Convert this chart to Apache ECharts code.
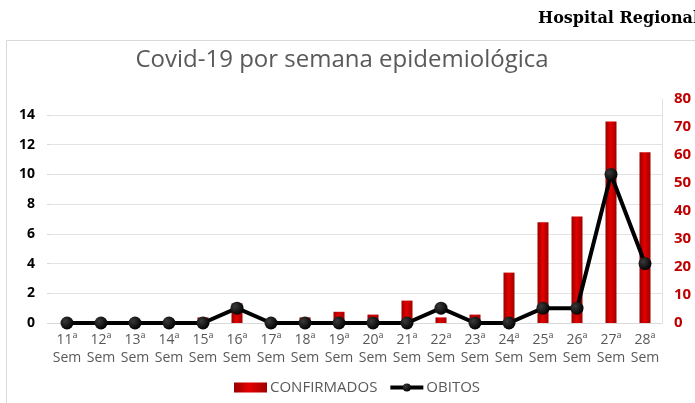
<!DOCTYPE html>
<html>
<head>
<meta charset="utf-8">
<script src="https://cdn.jsdelivr.net/npm/echarts@6/dist/echarts.min.js"></script>
<style>
  html, body { margin: 0; padding: 0; background: #fff; }
  #chart { width: 695px; height: 403px; }
</style>
</head>
<body>
<div id="chart"></div>
<script>
// semanas epidemiológicas
var semanas = ['11ª Sem', '12ª Sem', '13ª Sem', '14ª Sem', '15ª Sem', '16ª Sem', '17ª Sem', '18ª Sem', '19ª Sem',
               '20ª Sem', '21ª Sem', '22ª Sem', '23ª Sem', '24ª Sem', '25ª Sem', '26ª Sem', '27ª Sem', '28ª Sem'];
// casos confirmados (eixo direito)
var confirmados = [0, 0, 0, 0, 2, 7, 0, 2, 4, 3, 8, 2, 3, 18, 36, 38, 72, 61];
// óbitos (eixo esquerdo)
var obitos = [0, 0, 0, 0, 0, 1, 0, 0, 0, 0, 0, 1, 0, 0, 1, 1, 10, 4];

var chart = echarts.init(document.getElementById('chart'));

var barColor = new echarts.graphic.LinearGradient(0, 0, 1, 0, [
    { offset: 0, color: '#960000' },
    { offset: 0.45, color: '#e50000' },
    { offset: 1, color: '#a00000' }
]);
var dotColor = new echarts.graphic.RadialGradient(0.35, 0.35, 0.7, [
    { offset: 0, color: '#3a3a3a' },
    { offset: 1, color: '#000' }
]);

chart.setOption({
    animation: false,
    graphic: [
        {
            type: 'rect',
            shape: { x: 6.5, y: 40.5, width: 760, height: 420 },
            style: { fill: 'none', stroke: '#d9d9d9', lineWidth: 1 }
        },
        {
            type: 'text',
            right: -4,
            top: 11,
            style: { text: 'Hospital Regional', fill: '#000', font: 'bold 16px "DejaVu Serif"' }
        }
    ],
    title: {
        text: 'Covid-19 por semana epidemiológica',
        left: 337,
        textAlign: 'center',
        top: 43,
        textStyle: { color: '#595959', fontSize: 24, fontWeight: 'normal', fontFamily: 'Open Sans' }
    },
    legend: {
        bottom: 3,
        left: 229,
        itemWidth: 33,
        itemHeight: 10,
        itemGap: 11,
        textStyle: { color: '#595959', fontSize: 15, fontFamily: 'Open Sans', padding: [0, 0, 0, -2] },
        data: [
            { name: 'CONFIRMADOS', icon: 'rect' },
            { name: 'OBITOS', lineStyle: { width: 4, color: '#000' } }
        ]
    },
    grid: [
        { left: 50, right: 33, top: 115, bottom: 80 },
        { left: 50, right: 33, top: 99, bottom: 80 }
    ],
    xAxis: [
        {
            type: 'category',
            gridIndex: 0,
            data: semanas,
            axisLine: { lineStyle: { color: '#d9d9d9' } },
            axisTick: { show: false },
            axisLabel: {
                color: '#595959',
                fontSize: 14,
                lineHeight: 18,
                margin: 8,
                fontFamily: 'Open Sans',
                interval: 0,
                formatter: function (v) { return v.replace(' ', '\n'); }
            }
        },
        {
            type: 'category',
            gridIndex: 1,
            data: semanas,
            show: false
        }
    ],
    yAxis: [
        {
            type: 'value',
            gridIndex: 0,
            min: 0,
            max: 14,
            interval: 2,
            axisLine: { show: false },
            axisTick: { show: true, length: 3, lineStyle: { color: '#d9d9d9' } },
            splitLine: { lineStyle: { color: '#e3e3e3' } },
            axisLabel: { color: '#000', fontWeight: 'bold', fontSize: 14, margin: 15, fontFamily: 'Open Sans' }
        },
        {
            type: 'value',
            gridIndex: 1,
            position: 'right',
            min: 0,
            max: 80,
            interval: 10,
            axisLine: { show: true, lineStyle: { color: '#e3e3e3' } },
            axisTick: { show: false },
            splitLine: { show: false },
            axisLabel: { color: '#c00000', fontWeight: 'bold', fontSize: 15, margin: 12, fontFamily: 'Open Sans' }
        }
    ],
    series: [
        {
            name: 'CONFIRMADOS',
            type: 'bar',
            xAxisIndex: 1,
            yAxisIndex: 1,
            barWidth: 11,
            itemStyle: { color: barColor },
            data: confirmados
        },
        {
            name: 'OBITOS',
            type: 'line',
            xAxisIndex: 0,
            yAxisIndex: 0,
            symbol: 'circle',
            symbolSize: 13,
            lineStyle: { color: '#000', width: 4 },
            itemStyle: { color: dotColor, borderWidth: 0 },
            z: 5,
            data: obitos
        }
    ]
});
</script>
</body>
</html>
